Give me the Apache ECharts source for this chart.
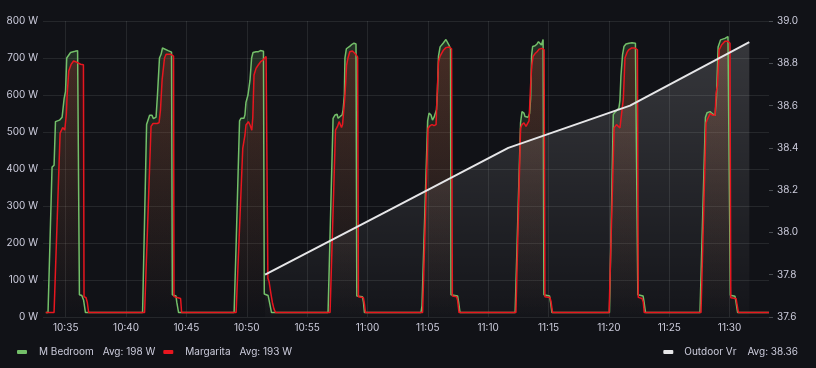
<!DOCTYPE html>
<html><head><meta charset="utf-8">
<script src="https://cdn.jsdelivr.net/npm/echarts@6/dist/echarts.min.js"></script>
<style>html,body{margin:0;padding:0;background:#111217;}#c{width:816px;height:368px;}</style>
</head><body><div id="c"></div>
<script>
// Time values are seconds after 10:00:00
const xMin = 1987, xMax = 5596;
const xTicks = [2100, 2400, 2700, 3000, 3300, 3600, 3900, 4200, 4500, 4800, 5100, 5400];

// M Bedroom power [seconds, W]
const mBedroom = [
  [2001,12],
  [2012,12],[2032,405],[2042,410],[2049,528],[2069,532],[2082,540],[2092,590],[2099,610],[2105,700],[2114,705],[2124,715],[2146,718],[2159,720],[2163,720],[2168,60],[2180,58],[2184,55],[2189,45],[2198,12],
  [2482,12],[2502,520],[2509,525],[2517,545],[2529,545],[2536,536],[2549,540],[2556,600],[2566,700],[2574,710],[2581,727],[2589,725],[2609,720],[2626,716],[2630,60],[2648,57],[2652,40],[2661,12],
  [2937,12],[2947,195],[2952,200],[2964,530],[2971,537],[2986,537],[2991,547],[2996,580],[3006,600],[3016,640],[3024,700],[3031,715],[3046,717],[3058,717],[3068,720],[3083,718],[3087,62],[3106,58],[3111,45],[3123,12],
  [3404,12],[3429,537],[3439,546],[3449,548],[3454,537],[3464,542],[3474,546],[3479,560],[3485,600],[3488,700],[3495,725],[3503,728],[3513,732],[3523,737],[3533,740],[3543,738],[3547,57],[3575,55],[3580,40],[3585,12],
  [3866,12],[3871,30],[3899,530],[3906,551],[3916,546],[3923,532],[3931,540],[3938,545],[3943,560],[3948,610],[3953,705],[3961,730],[3976,740],[3990,750],[3998,745],[4005,735],[4013,725],[4015,60],[4048,57],[4053,40],[4060,12],
  [4334,12],[4361,525],[4368,555],[4378,551],[4383,542],[4398,540],[4406,550],[4411,591],[4416,708],[4421,731],[4433,733],[4443,738],[4450,744],[4458,740],[4465,735],[4473,750],[4477,60],[4505,57],[4510,40],[4517,12],
  [4803,12],[4822,547],[4833,555],[4841,560],[4850,565],[4855,585],[4860,652],[4868,709],[4875,731],[4885,738],[4900,740],[4915,741],[4932,740],[4941,740],[4944,60],[4970,57],[4975,40],[4982,12],
  [5253,12],[5280,540],[5288,552],[5303,555],[5318,548],[5328,545],[5335,595],[5343,730],[5355,749],[5377,753],[5392,758],[5401,755],[5404,59],[5427,56],[5432,40],[5440,12],[5596,12]
];

// Margarita power [seconds, W]
const margarita = [
  [2001,12],
  [2042,12],[2072,497],[2077,500],[2085,512],[2090,515],[2095,505],[2099,505],[2103,548],[2107,600],[2115,665],[2126,682],[2139,692],[2149,690],[2156,686],[2174,683],[2188,682],[2191,55],[2201,52],[2207,40],[2214,12],
  [2492,12],[2524,515],[2534,523],[2554,523],[2564,525],[2571,560],[2579,640],[2584,665],[2591,700],[2599,710],[2623,710],[2636,705],[2638,55],[2658,52],[2671,50],[2676,12],
  [2947,12],[2980,456],[2986,460],[2991,492],[2996,519],[3008,528],[3016,519],[3025,505],[3030,540],[3036,654],[3046,672],[3057,681],[3069,690],[3082,695],[3096,704],[3102,704],[3105,105],[3111,95],[3116,77],[3121,60],[3127,40],[3135,22],[3143,12],
  [3414,12],[3441,505],[3451,515],[3459,528],[3466,528],[3471,512],[3476,520],[3483,525],[3487,590],[3492,636],[3496,680],[3503,700],[3512,717],[3525,719],[3538,712],[3551,703],[3555,55],[3580,52],[3585,35],[3590,12],
  [3874,12],[3901,510],[3911,517],[3921,520],[3931,517],[3941,520],[3946,600],[3953,690],[3961,705],[3976,720],[3990,728],[4005,730],[4018,725],[4022,57],[4043,55],[4048,45],[4055,12],
  [4338,12],[4361,510],[4368,520],[4378,525],[4388,515],[4396,520],[4403,530],[4411,627],[4417,681],[4423,704],[4433,712],[4443,717],[4453,724],[4468,726],[4478,722],[4482,55],[4507,53],[4512,43],[4520,12],
  [4801,12],[4826,511],[4838,520],[4847,522],[4855,511],[4864,507],[4872,590],[4880,700],[4890,715],[4898,722],[4913,727],[4930,727],[4942,722],[4946,53],[4965,50],[4971,40],[4976,12],
  [5258,12],[5283,525],[5288,532],[5303,550],[5318,545],[5328,545],[5333,605],[5340,625],[5348,722],[5360,735],[5377,745],[5392,745],[5402,740],[5406,52],[5432,50],[5437,35],[5444,12],[5596,12]
];

// Outdoor Vr [seconds, value]
const outdoorVr = [[3091,37.8],[3696,38.1],[4300,38.4],[4905,38.6],[5498,38.9]];

const seriesNames = ['M Bedroom', 'Margarita', 'Outdoor Vr'];
const avgLabels = {'M Bedroom': '198 W', 'Margarita': '193 W', 'Outdoor Vr': '38.36'};

const TXT = '#ccccdc';
const GRID = 'rgba(240, 250, 255, 0.09)';
const FONT = 'Inter';
const FS = 10;
const GREEN = '#73BF69', RED = '#E8161F', WHITE = '#e6e6e8';

function fmtTime(s) {
  const h = 10 + Math.floor(s / 3600);
  const m = Math.floor((s % 3600) / 60);
  return h + ':' + String(m).padStart(2, '0');
}
function grad(r, g, b, a0, a1) {
  return new echarts.graphic.LinearGradient(0, 21, 0, 317, [
    {offset: 0, color: `rgba(${r},${g},${b},${a0})`},
    {offset: 1, color: `rgba(${r},${g},${b},${a1})`}
  ], true);
}
function legendFmt(name) { return '{n|' + name + '}{a|Avg: ' + avgLabels[name] + '}'; }

const chart = echarts.init(document.getElementById('c'), null, {renderer: 'canvas'});
chart.setOption({
  backgroundColor: '#111217',
  animation: false,
  grid: {left: 43, right: 47, top: 21, bottom: 51, containLabel: false},
  legend: [
    {
      data: [seriesNames[0], seriesNames[1]], left: 17, top: 347, padding: 0, icon: 'roundRect',
      itemWidth: 10, itemHeight: 4, itemGap: 8, formatter: legendFmt,
      textStyle: {color: TXT, fontFamily: FONT, fontSize: FS,
        rich: {n: {color: TXT, fontFamily: FONT, fontSize: FS, padding: [0, 9, 0, 7]},
               a: {color: TXT, fontFamily: FONT, fontSize: FS}}}
    },
    {
      data: [seriesNames[2]], right: 18, top: 347, padding: 0, icon: 'roundRect',
      itemWidth: 10, itemHeight: 4, formatter: legendFmt,
      textStyle: {color: TXT, fontFamily: FONT, fontSize: FS,
        rich: {n: {color: TXT, fontFamily: FONT, fontSize: FS, padding: [0, 11, 0, 6]},
               a: {color: TXT, fontFamily: FONT, fontSize: FS}}}
    }
  ],
  xAxis: {
    type: 'value', min: xMin, max: xMax,
    axisLine: {show: false},
    axisTick: {show: false, customValues: xTicks},
    axisLabel: {customValues: xTicks, formatter: fmtTime, color: TXT, fontFamily: FONT, fontSize: FS, margin: 6},
    splitLine: {show: true, lineStyle: {color: GRID, width: 1}}
  },
  yAxis: [
    {
      type: 'value', min: 0, max: 800, interval: 100, position: 'left',
      axisLine: {show: false}, axisTick: {show: false},
      axisLabel: {formatter: '{value} W', color: TXT, fontFamily: FONT, fontSize: FS, margin: 5},
      splitLine: {show: true, lineStyle: {color: GRID, width: 1}}
    },
    {
      type: 'value', min: 37.6, max: 39.0, interval: 0.2, position: 'right',
      axisLine: {show: false},
      axisTick: {show: true, length: 4, lineStyle: {color: 'rgba(240,250,255,0.25)'}},
      axisLabel: {formatter: v => v.toFixed(1), color: TXT, fontFamily: FONT, fontSize: FS, margin: 8},
      splitLine: {show: false}
    }
  ],
  series: [
    {
      name: seriesNames[0], type: 'line', data: mBedroom, yAxisIndex: 0,
      showSymbol: false, symbol: 'none', color: GREEN,
      lineStyle: {color: GREEN, width: 1.5},
      areaStyle: {color: grad(115, 191, 105, 0.28, 0.0)}
    },
    {
      name: seriesNames[1], type: 'line', data: margarita, yAxisIndex: 0,
      showSymbol: false, symbol: 'none', color: RED,
      lineStyle: {color: RED, width: 1.5},
      areaStyle: {color: grad(232, 22, 31, 0.28, 0.0)}
    },
    {
      name: seriesNames[2], type: 'line', data: outdoorVr, yAxisIndex: 1,
      showSymbol: false, symbol: 'none', color: WHITE,
      lineStyle: {color: WHITE, width: 2},
      areaStyle: {origin: 'start', color: grad(255, 255, 255, 0.24, 0.02)}
    }
  ]
});
</script>
</body></html>
